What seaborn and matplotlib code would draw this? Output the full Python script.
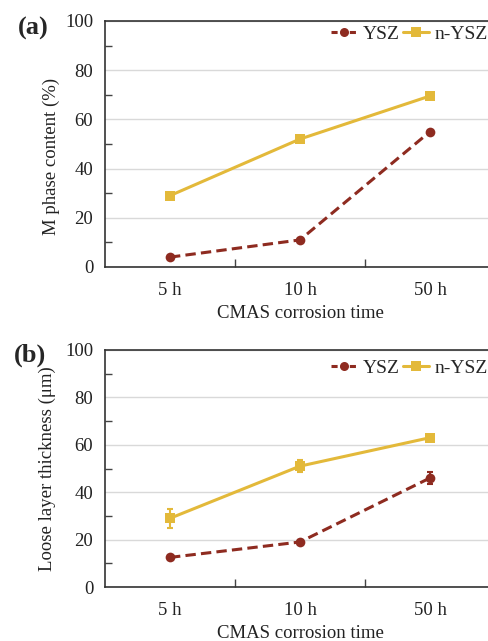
import numpy as np
import pandas as pd
import matplotlib
matplotlib.use("Agg")
import matplotlib.pyplot as plt
from matplotlib.ticker import MultipleLocator, FixedLocator
from matplotlib.lines import Line2D
import seaborn as sns

categories = ["5 h", "10 h", "50 h"]
series_names = ["YSZ", "n-YSZ"]
m_phase_ysz = [4, 11, 55]
m_phase_nysz = [29, 52, 69.5]
loose_ysz = [12.5, 19, 46]
loose_ysz_err = [0.6, 1.0, 2.5]
loose_nysz = [29, 51, 63]
loose_nysz_err = [4.0, 2.5, 1.3]

sns.set_theme(style="white")
plt.rcParams["font.family"] = ["Liberation Serif", "DejaVu Serif"]

c_ysz = "#8E2B20"
c_nysz = "#E3B93A"

fig = plt.figure(figsize=(4.89, 6.41), dpi=100)
ax1 = fig.add_axes([0.2147, 0.5835, 0.7975, 0.3838])
ax2 = fig.add_axes([0.2147, 0.0842, 0.7975, 0.3698])


def draw(ax, ysz, nysz, ylabel, legend_y, ylabel_xy, ysz_err=None, nysz_err=None):
    df = pd.DataFrame({
        "time": categories * 2,
        "value": list(ysz) + list(nysz),
        "series": [series_names[0]] * 3 + [series_names[1]] * 3,
    })
    sns.lineplot(data=df, x="time", y="value", hue="series", style="series",
                 palette={series_names[0]: c_ysz, series_names[1]: c_nysz},
                 dashes={series_names[0]: (3.4, 1.7), series_names[1]: ""},
                 markers={series_names[0]: "o", series_names[1]: "s"},
                 markersize=7, markeredgewidth=0, linewidth=2.2,
                 ax=ax, legend=False, sort=False)
    if ysz_err is not None:
        ax.errorbar(categories, ysz, yerr=ysz_err, fmt="none", ecolor=c_ysz,
                    elinewidth=1.5, capsize=2.5, capthick=1.5)
    if nysz_err is not None:
        ax.errorbar(categories, nysz, yerr=nysz_err, fmt="none", ecolor=c_nysz,
                    elinewidth=1.5, capsize=2.5, capthick=1.5)
    ax.set_xlim(-0.5, 2.5)
    ax.set_ylim(0, 100)
    ax.yaxis.set_major_locator(MultipleLocator(20))
    ax.yaxis.set_minor_locator(FixedLocator([10, 30, 50, 70, 90]))
    ax.xaxis.set_minor_locator(FixedLocator([0.5, 1.5]))
    ax.tick_params(axis="both", which="major", length=0, labelsize=13.5,
                   colors="#222222")
    ax.tick_params(axis="y", which="major", pad=8.5)
    ax.tick_params(axis="x", which="major", pad=11)
    ax.tick_params(axis="y", which="minor", direction="in", length=5,
                   width=1, color="#444444", left=True)
    ax.tick_params(axis="x", which="minor", direction="in", length=6,
                   width=1, color="#444444", bottom=True)
    ax.grid(axis="y", which="major", color="#d9d9d9", linewidth=1)
    ax.set_axisbelow(True)
    for s in ["left", "top", "bottom", "right"]:
        ax.spines[s].set_color("#333333")
        ax.spines[s].set_linewidth(1.2)
    ax.set_xlabel("CMAS corrosion time", fontsize=13.5, color="#222222", labelpad=4)
    ax.set_ylabel(ylabel, fontsize=13.5, color="#222222", va="center")
    ax.yaxis.set_label_coords(*ylabel_xy)
    handles = [
        Line2D([], [], color=c_ysz, linestyle=(0, (2.0, 1.0)), linewidth=2.2,
               marker="o", markersize=6.5, markeredgewidth=0),
        Line2D([], [], color=c_nysz, linestyle="-", linewidth=2.2,
               marker="s", markersize=7, markeredgewidth=0),
    ]
    ax.legend(handles, series_names, loc="center right", ncol=2, frameon=False,
              fontsize=14, handlelength=1.3, handletextpad=0.3,
              columnspacing=0.2, bbox_to_anchor=(0.982, legend_y),
              borderaxespad=0, borderpad=0)


draw(ax1, m_phase_ysz, m_phase_nysz, "M phase content (%)", 0.945,
     ((51 - 105) / 390, (267 - 156) / 246))
draw(ax2, loose_ysz, loose_nysz, "Loose layer thickness (\u03bcm)", 0.925,
     ((47 - 105) / 390, (587 - 469) / 237),
     loose_ysz_err, loose_nysz_err)

fig.text(18 / 489, 1 - 28 / 641, "(a)", fontsize=19, fontweight="bold",
         ha="left", va="center")
fig.text(14 / 489, 1 - 355 / 641, "(b)", fontsize=19, fontweight="bold",
         ha="left", va="center")

fig.savefig("out.png", dpi=100)
